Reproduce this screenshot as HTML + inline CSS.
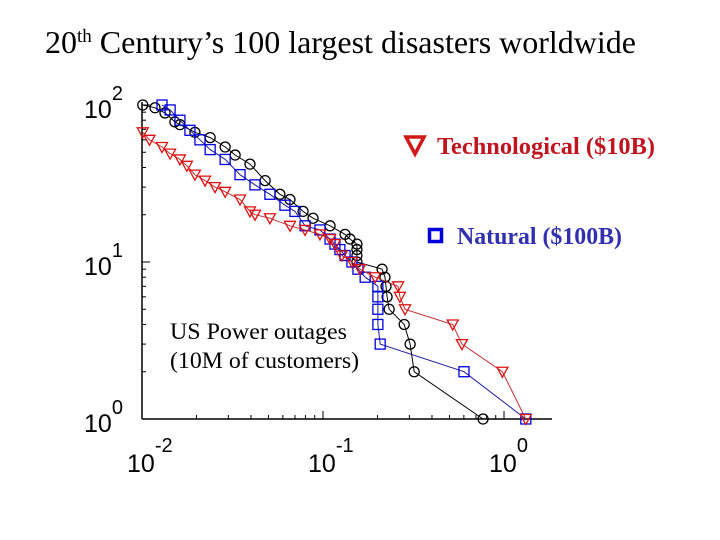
<!DOCTYPE html>
<html><head><meta charset="utf-8"><style>
body{margin:0;background:#fff;}
svg{display:block;}
</style></head><body>
<svg id="chart" width="720" height="540" xmlns="http://www.w3.org/2000/svg" font-family="Liberation Serif, serif">
<text x="45" y="53" font-size="32">20<tspan font-size="19" dy="-11">th</tspan><tspan dy="11"> Century’s 100 largest disasters worldwide</tspan></text>
<g id="axes"></g>
<g id="series"></g>
<g>
<polygon points="406,137 424,137 415,154" fill="none" stroke="#d01818" stroke-width="3.5"/>
<text x="437" y="154" font-size="24" font-weight="bold" fill="#c0141e" textLength="218" lengthAdjust="spacingAndGlyphs">Technological ($10B)</text>
</g>
<g>
<rect x="429.5" y="229.5" width="12" height="12" fill="none" stroke="#0000dd" stroke-width="3.5"/>
<text x="457" y="244" font-size="24" font-weight="bold" fill="#3030b0" textLength="165" lengthAdjust="spacingAndGlyphs">Natural ($100B)</text>
</g>
<text x="170" y="339" font-size="23" textLength="177" lengthAdjust="spacingAndGlyphs">US Power outages</text>
<text x="170" y="368" font-size="23" textLength="189" lengthAdjust="spacingAndGlyphs">(10M of customers)</text>
</svg>
<script>
const blackX=[0.0101,0.0118,0.0134,0.0152,0.0162,0.0196,0.0238,0.0288,0.0327,0.0395,0.0479,0.0578,0.0657,0.0776,0.0881,0.1094,0.1324,0.141,0.154,0.154,0.154,0.154,0.212,0.220,0.223,0.226,0.232,0.281,0.303,0.319,0.766];
const blackY=[100,96,89,78,75,67,62,54,48,42,33,27,25,21,19,17,15,14,13,12,11,10,9,8,7,6,5,4,3,2,1];
const redX=[0.0101,0.0110,0.0129,0.0143,0.0162,0.0177,0.0196,0.0223,0.0253,0.0288,0.0348,0.0395,0.0421,0.0509,0.0657,0.0796,0.0962,0.1094,0.1164,0.127,0.1445,0.16,0.194,0.26,0.266,0.284,0.521,0.585,0.98,1.32];
const redY=[67,60,54,49,45,41,36,33,30,28,25,21,20,19,17,16,15,14,13,11,10,9,8,7,6,5,4,3,2,1];
const blueX=[0.0129,0.0143,0.0162,0.0184,0.0209,0.0238,0.0288,0.0348,0.0421,0.0509,0.0616,0.070,0.0796,0.0962,0.1094,0.1164,0.124,0.1324,0.1445,0.156,0.171,0.201,0.201,0.201,0.201,0.207,0.601,1.32];
const blueY=[100,93,80,69,60,52,45,36,31,27,23,21,17,16,14,13,12,11,10,9,8,7,6,5,4,3,2,1];
const xTickExp=[-2,-1,0];
const yTickExp=[0,1,2];

const NS="http://www.w3.org/2000/svg";
const X0=142,XD=181,Y0=419,YD=157;
function sx(v){return X0+(Math.log10(v)+2)*XD;}
function sy(v){return Y0-Math.log10(v)*YD;}
function mk(tag,attrs,parent){const e=document.createElementNS(NS,tag);for(const k in attrs)e.setAttribute(k,attrs[k]);parent.appendChild(e);return e;}
const axes=document.getElementById('axes');
let l=mk('line',{x1:X0,y1:Y0,x2:552,y2:Y0,stroke:'#000','stroke-width':1.5},axes);


l=mk('line',{x1:X0,y1:Y0,x2:X0,y2:102,stroke:'#000','stroke-width':1.5},axes);


for(let e=-2;e<=0;e++){for(let m=1;m<10;m++){const v=m*Math.pow(10,e);const px=sx(v);if(px>552)break;
 const t=mk('line',{x1:px,y1:Y0,x2:px,y2:Y0-(m===1?8:4),stroke:'#000','stroke-width':1},axes);
 
 }}
for(let e=0;e<=2;e++){for(let m=1;m<10;m++){const v=m*Math.pow(10,e);if(v>100)break;const py=sy(v);
 const t=mk('line',{x1:X0,y1:py,x2:X0+(m===1?8:4),y2:py,stroke:'#000','stroke-width':1},axes);
 
 }}
xTickExp.forEach(e=>{const px=sx(Math.pow(10,e));
 const t=mk('text',{x:px-15,y:472,'font-size':25,'font-family':'Liberation Sans, sans-serif'},axes);
 
 
 t.textContent='10';
 const s=mk('tspan',{dy:-20,'font-size':20},t);s.textContent=String(e);});
yTickExp.forEach(e=>{const py=sy(Math.pow(10,e));
 const t=mk('text',{x:84,y:py+13,'font-size':25,'font-family':'Liberation Sans, sans-serif'},axes);
 
 
 t.textContent='10';
 const s=mk('tspan',{dy:-18,'font-size':20},t);s.textContent=String(e);});

const ser=document.getElementById('series');
function drawSeries(xs,ys,line,marker,shape,name){
 const g=mk('g',{},ser);
 
 
 const pts=xs.map((x,i)=>sx(x).toFixed(1)+','+sy(ys[i]).toFixed(1)).join(' ');
 mk('polyline',{points:pts,fill:'none',stroke:line,'stroke-width':1},g);
 xs.forEach((x,i)=>{const px=sx(x),py=sy(ys[i]);let m;
  if(shape==='circle')m=mk('circle',{cx:px,cy:py,r:5,fill:'none',stroke:marker,'stroke-width':1.3},g);
  else if(shape==='square')m=mk('rect',{x:px-5,y:py-5,width:10,height:10,fill:'none',stroke:marker,'stroke-width':1.3},g);
  else m=mk('polygon',{points:`${px-5.5},${py-4.5} ${px+5.5},${py-4.5} ${px},${py+5.5}`,fill:'none',stroke:marker,'stroke-width':1.3},g);
  
  });
}
drawSeries(blackX,blackY,'#000','#000','circle','power-outages-series');
drawSeries(blueX,blueY,'#1a1a9a','#0000dd','square','natural-series');
drawSeries(redX,redY,'#c03030','#e01010','triangle','technological-series');
</script>
</body></html>
